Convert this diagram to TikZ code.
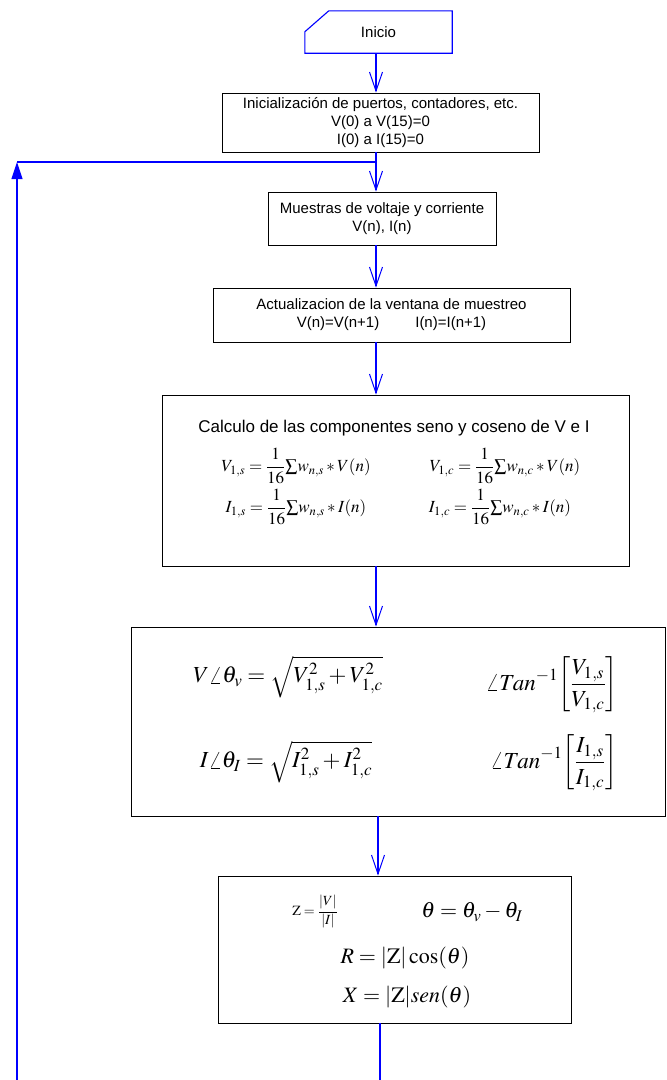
\documentclass[tikz,border=0pt]{standalone}
\usepackage{mathptmx}
\usepackage[no-math]{fontspec}
\setmainfont{Liberation Sans}
\usetikzlibrary{arrows.meta, positioning}

\begin{document}
\begin{tikzpicture}[
  x=1pt, y=-1pt,
  every node/.style={align=center, inner sep=0pt, font=\fontsize{15}{18}\selectfont},
  process/.style={draw, line width=0.9pt, rectangle},
  flow/.style={draw=blue, line width=1.1pt},
  arrow/.style={flow, -{Straight Barb[length=19pt, width=13pt, line width=1pt]}},
  backarrow/.style={flow, -{Triangle[length=17pt, width=11pt]}},
  formula/.style={font=\fontsize{17}{20}\selectfont},
  bigformula/.style={font=\fontsize{23}{27}\selectfont},
  midformula/.style={font=\fontsize{22}{26}\selectfont}
]
\useasboundingbox (0,0) rectangle (667,1080);

% Start
\node[minimum width=147pt, minimum height=42pt] (inicio) at (378.5,32) {Inicio};
\draw[flow] (inicio.south west) -- ([yshift=-21pt]inicio.north west) -- ([xshift=24pt]inicio.north west)
  -- (inicio.north east) -- (inicio.south east) -- cycle;

% Steps
\node[process, minimum width=317pt, minimum height=59pt] (init) at (380.5,122.5)
  {Inicialización de puertos, contadores, etc.\\ V(0) a V(15)=0\\ I(0) a I(15)=0};
\node[process, minimum width=228pt, minimum height=53pt] (muestras) at (382,218.5)
  {Muestras de voltaje y corriente\\ V(n), I(n)};
\node[process, minimum width=357pt, minimum height=54pt] (ventana) at (391.5,315)
  {Actualizacion de la ventana de muestreo\\ V(n)=V(n+1)\hspace{36pt}I(n)=I(n+1)};

% Sine and cosine components
\node[process, minimum width=467pt, minimum height=171pt] (calc) at (395.5,480.5) {};
\node[font=\fontsize{17}{20}\selectfont] (calctitle) at (394,428) {Calculo de las componentes seno y coseno de V e I};
\node[formula] (vsin) at (296,466) {$\displaystyle V_{1,s}=\frac{1}{16}{\textstyle\sum} w_{n,s}*V(n)$};
\node[formula] (vcos) at (505,466) {$\displaystyle V_{1,c}=\frac{1}{16}{\textstyle\sum} w_{n,c}*V(n)$};
\node[formula] (isin) at (296,507) {$\displaystyle I_{1,s}=\frac{1}{16}{\textstyle\sum} w_{n,s}*I(n)$};
\node[formula] (icos) at (500,507) {$\displaystyle I_{1,c}=\frac{1}{16}{\textstyle\sum} w_{n,c}*I(n)$};

% Magnitude and angle
\node[process, minimum width=534pt, minimum height=189pt] (vbox) at (398,721.5) {};
\node[bigformula] (vmag) at (288,677) {$V\angle\theta_{v}=\sqrt{V_{1,s}^{2}+V_{1,c}^{2}}$};
\node[bigformula] (vang) at (552,685) {$\displaystyle\angle Tan^{-1}\!\left[\frac{V_{1,s}}{V_{1,c}}\right]$};
\node[bigformula] (imag) at (286,762) {$I\angle\theta_{I}=\sqrt{I_{1,s}^{2}+I_{1,c}^{2}}$};
\node[bigformula] (iang) at (554,763) {$\displaystyle\angle Tan^{-1}\!\left[\frac{I_{1,s}}{I_{1,c}}\right]$};

% Impedance
\node[process, minimum width=353pt, minimum height=147pt] (zbox) at (394.5,949.5) {};
\node[font=\fontsize{14}{16}\selectfont] (zdiv) at (315,912) {$\displaystyle \mathrm{Z}=\frac{|V|}{|I|}$};
\node[midformula] (theta) at (472,912) {$\theta=\theta_{v}-\theta_{I}$};
\node[midformula] (rr) at (405,958) {$R=|\mathrm{Z}|\cos(\theta)$};
\node[midformula] (xx) at (407,997) {$X=|\mathrm{Z}|sen(\theta)$};

% Connectors
\coordinate (spine) at (376,0);
\coordinate (spinelow) at (378,0);
\coordinate (join) at (376,162);
\coordinate (corner) at (17,162);
\coordinate (leftend) at (17,1080);
\coordinate (bottomend) at (380,1080);

\draw[arrow] (inicio.south -| spine) -- (init.north -| spine);
\draw[arrow] (init.south -| spine) -- (muestras.north -| spine);
\draw[arrow] (muestras.south -| spine) -- (ventana.north -| spine);
\draw[arrow] (ventana.south -| spine) -- (calc.north -| spine);
\draw[arrow] (calc.south -| spine) -- (vbox.north -| spine);
\draw[arrow] (vbox.south -| spinelow) -- (zbox.north -| spinelow);
\draw[flow] (zbox.south -| bottomend) -- (bottomend);
\draw[backarrow] (leftend) -- (corner);
\draw[flow] (corner) -- (join);

\end{tikzpicture}
\end{document}
